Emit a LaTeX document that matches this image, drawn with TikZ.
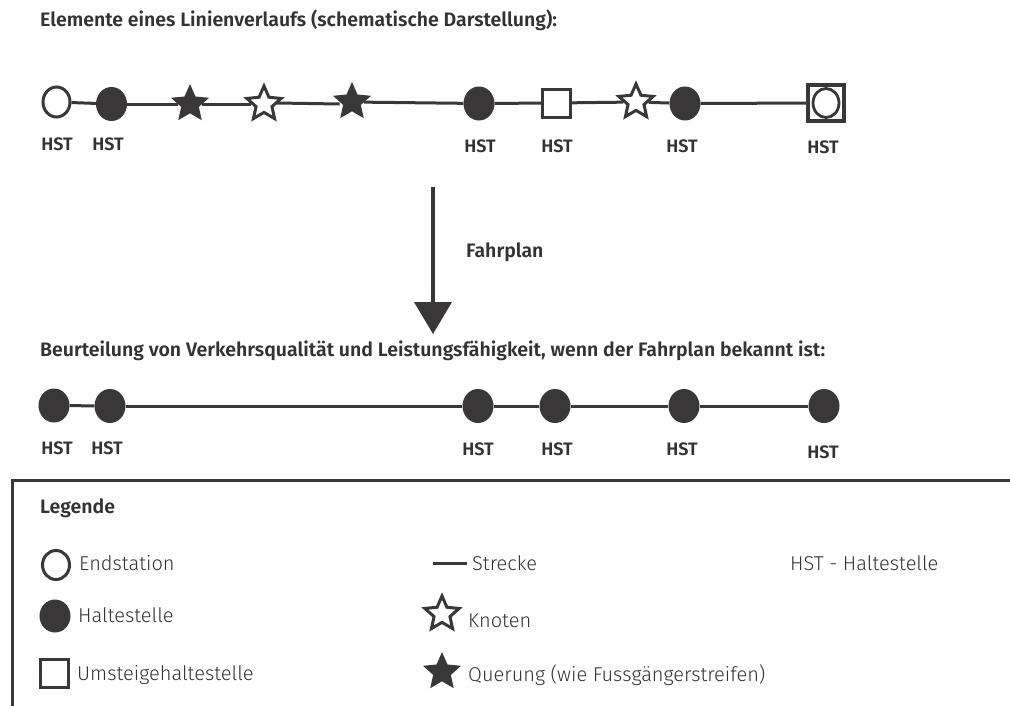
\documentclass[tikz,border=0pt]{standalone}
\usepackage{fontspec}
\setmainfont{Fira Sans}[UprightFont=* Light, BoldFont=* SemiBold]
\usetikzlibrary{shapes.geometric,arrows.meta}
\definecolor{ink}{RGB}{58,55,56}
\definecolor{txt}{RGB}{51,51,51}
\begin{document}
\begin{tikzpicture}[x=1pt,y=-1pt,
  track/.style={draw=ink, line width=3pt},
  endst/.style={ellipse, draw=ink, fill=white, line width=3pt, minimum width=27pt, minimum height=30pt, inner sep=0pt},
  halt/.style={ellipse, fill=ink, minimum width=31pt, minimum height=34pt, inner sep=0pt},
  umst/.style={rectangle, draw=ink, fill=white, line width=3pt, minimum width=28pt, minimum height=28pt, inner sep=0pt},
  umend/.style={rectangle, draw=ink, fill=white, line width=3.5pt, minimum width=36pt, minimum height=36pt, inner sep=0pt},
  knot/.style={star, star points=5, star point ratio=2.15, draw=ink, fill=white, line width=3pt, minimum size=36pt, inner sep=0pt},
  quer/.style={star, star points=5, star point ratio=2.15, fill=ink, minimum size=40pt, inner sep=0pt},
  hst/.style={font=\bfseries\fontsize{18}{20}\selectfont, text=txt, anchor=base, inner sep=0pt},
  head/.style={font=\bfseries\fontsize{19.5}{22}\selectfont, text=txt, anchor=base west, inner sep=0pt},
  legtxt/.style={font=\fontsize{20}{24}\selectfont, text=txt, anchor=base west, inner sep=0pt}
]
\useasboundingbox (0,0) rectangle (1010,705);

% ---- schematic line ----
\node[head] (t1) at (40,26) {Elemente eines Linienverlaufs (schematische Darstellung):};

\node[endst] (a1) at (56.5,102) {};
\node[halt]  (a2) at (111.5,104) {};
\node[quer]  (a3) at (190,104) {};
\node[knot]  (a4) at (264,104) {};
\node[quer]  (a5) at (352,102) {};
\node[halt]  (a6) at (479,103.5) {};
\node[umst]  (a7) at (556.5,103) {};
\node[knot]  (a8) at (636,102) {};
\node[halt]  (a9) at (685,103.5) {};
\node[umend] (a10) at (826,103) {};
\node[endst, line width=2.8pt, minimum width=26pt, minimum height=29pt] (a10c) at (826,103) {};

\draw[track] (a1) -- (a2);
\draw[track] (a2) -- (a3);
\draw[track] (a3) -- (a4);
\draw[track] (a4.east |- 0,103) -- ([yshift=-2pt]a5.west);
\draw[track] (a5) -- (a6);
\draw[track] (a6) -- (a7);
\draw[track] (a7) -- (a8);
\draw[track] (a8) -- (a9);
\draw[track] (a9) -- (a10);

\node[hst] (h1) at (57,150.5) {HST};
\node[hst] (h2) at (108,150.5) {HST};
\node[hst] (h3) at (480,152) {HST};
\node[hst] (h4) at (557,152) {HST};
\node[hst] (h5) at (682,152) {HST};
\node[hst] (h6) at (823,153.5) {HST};

% ---- timetable arrow ----
\coordinate (arrS) at (433,187);
\coordinate (arrE) at (433,334);
\draw[draw=ink, fill=ink, line width=4pt, -{Triangle[width=37pt,length=32pt]}] (arrS) -- (arrE);
\node[head] (fp) at (466,257) {Fahrplan};

% ---- evaluation line ----
\node[head] (t2) at (40,356) {Beurteilung von Verkehrsqualität und Leistungsfähigkeit, wenn der Fahrplan bekannt ist:};

\node[halt] (b1) at (54,405.5) {};
\node[halt] (b2) at (110,406) {};
\node[halt] (b3) at (478,406) {};
\node[halt] (b4) at (555,406) {};
\node[halt] (b5) at (684,406) {};
\node[halt] (b6) at (824,406) {};
\draw[track] (b1) -- (b2);
\draw[track] (b2) -- (b3);
\draw[track] (b3) -- (b4);
\draw[track] (b4) -- (b5);
\draw[track] (b5) -- (b6);

\node[hst] (k1) at (57,454) {HST};
\node[hst] (k2) at (107,454) {HST};
\node[hst] (k3) at (478,455) {HST};
\node[hst] (k4) at (557,455) {HST};
\node[hst] (k5) at (682,455) {HST};
\node[hst] (k6) at (823,458) {HST};

% ---- legend ----
\draw[draw=ink, line width=3pt] (12,706) -- (12,480) -- (1012,480);
\node[head] (lg) at (40,513) {Legende};

\node[endst, minimum height=29pt] (l1) at (56,565) {};
\node[legtxt] (l1t) at (79,570) {Endstation};
\node[halt, minimum height=33pt] (l2) at (55,616) {};
\node[legtxt] (l2t) at (78,622) {Haltestelle};
\node[umst] (l3) at (54.5,673) {};
\node[legtxt] (l3t) at (77,680) {Umsteigehaltestelle};

\coordinate (s1) at (433,563);
\coordinate (s2) at (467,563);
\draw[track] (s1) -- (s2);
\node[legtxt] (l4t) at (472,570) {Strecke};
\node[knot] (l5) at (442,614) {};
\node[legtxt] (l5t) at (468,627) {Knoten};
\node[quer] (l6) at (442,672) {};
\node[legtxt] (l6t) at (468,681) {Querung (wie Fussgängerstreifen)};

\node[legtxt] (l7t) at (790,570) {HST - Haltestelle};
\end{tikzpicture}
\end{document}
